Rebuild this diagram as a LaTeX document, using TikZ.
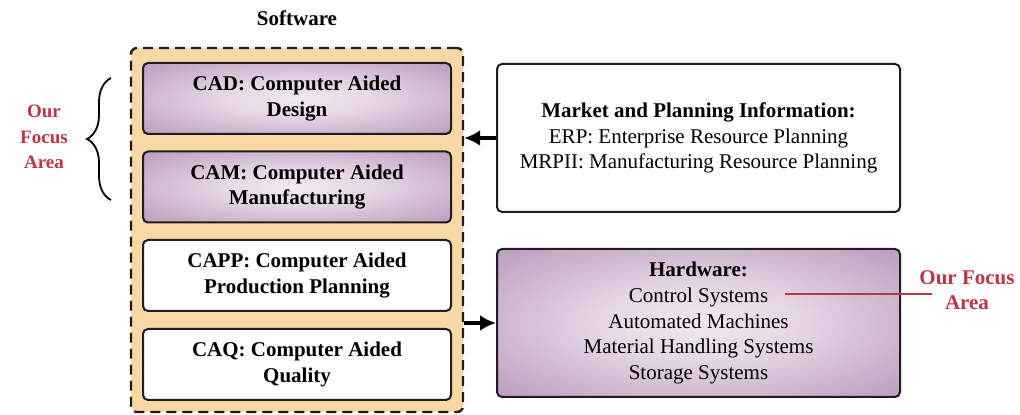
\documentclass[tikz,border=0pt]{standalone}
\usepackage{fontspec}
\setmainfont{Liberation Serif}
\usepackage{xcolor}
\usepackage{tikz}
\usetikzlibrary{arrows.meta,calc,positioning,decorations.pathreplacing}
\definecolor{swfill}{RGB}{250,216,166}
\definecolor{focusred}{RGB}{192,51,72}
\definecolor{glowin}{RGB}{242,232,241}
\definecolor{glowout}{RGB}{160,120,164}
\definecolor{boxline}{RGB}{30,30,30}
\pgfdeclareradialshading{focusglow}{\pgfpoint{0bp}{0bp}}{color(0bp)=(glowin); color(12bp)=(glowin!85!glowout); color(50bp)=(glowout)}
\tikzset{
  swframe/.style={rectangle,rounded corners=3pt,draw=boxline,fill=swfill,
    line width=1.2pt,dash pattern=on 5pt off 3pt,minimum width=166pt,minimum height=182pt},
  swbox/.style={rectangle,rounded corners=2.5pt,draw=boxline,line width=1pt,fill=white,
    minimum width=154pt,minimum height=35.5pt,align=center,
    font=\fontsize{10.5}{12.8}\selectfont\bfseries},
  infobox/.style={rectangle,rounded corners=2.5pt,draw=boxline,line width=1pt,fill=white,
    minimum width=201.5pt,minimum height=74pt,align=center,
    font=\fontsize{10.5}{12.8}\selectfont},
  focus/.style={shading=focusglow},
  flow/.style={-{Latex[length=8pt,width=8pt]},line width=1.6pt,black},
  focuslabel/.style={text=focusred,font=\fontsize{10.5}{12.8}\selectfont\bfseries},
  focusline/.style={draw=focusred,line width=1.1pt},
  focusbrace/.style={decorate,decoration={brace,amplitude=12pt},line width=0.9pt,black}
}
\begin{document}
\begin{tikzpicture}[x=0.5pt,y=-0.5pt]
  \useasboundingbox (0,0) rectangle (1020,415);
  \node[font=\fontsize{10.5}{12.8}\selectfont\bfseries] (swtitle) at (297,18) {Software};
  \node[swframe] (sw) at (297,230) {};
  \node[swbox,focus] (cad) at (297,98.5) {CAD: Computer Aided\\Design};
  \node[swbox,focus] (cam) at (297,187) {CAM: Computer Aided\\Manufacturing};
  \node[swbox] (capp) at (297,275.5) {CAPP: Computer Aided\\Production Planning};
  \node[swbox] (caq) at (297,364.5) {CAQ: Computer Aided\\Quality};
  \node[infobox] (market) at (698.5,138) {\textbf{Market and Planning Information:}\\ERP: Enterprise Resource Planning\\MRPII: Manufacturing Resource Planning};
  \node[infobox,focus] (hw) at (698.5,323) {\textbf{Hardware:}\\Control Systems\\Automated Machines\\Material Handling Systems\\Storage Systems};
  \node[focuslabel,align=center,font=\fontsize{9.5}{12.8}\selectfont\bfseries] (swfocus) at (44,137) {Our\\Focus\\Area};
  \node[focuslabel,align=center] (hwfocus) at (967,290) {Our Focus\\Area};
  \coordinate (bracetop) at (111,78);
  \coordinate (bracebot) at (111,200);
  \coordinate (ctrl) at (785,294);
  \coordinate (ctrlend) at (932,294);
  \draw[focusbrace] (bracebot) -- (bracetop);
  \draw[flow] (market.west) -- (sw.east |- market.west);
  \draw[flow] (sw.east |- hw.west) -- (hw.west);
  \draw[focusline] (ctrl) -- (ctrlend);
\end{tikzpicture}
\end{document}
